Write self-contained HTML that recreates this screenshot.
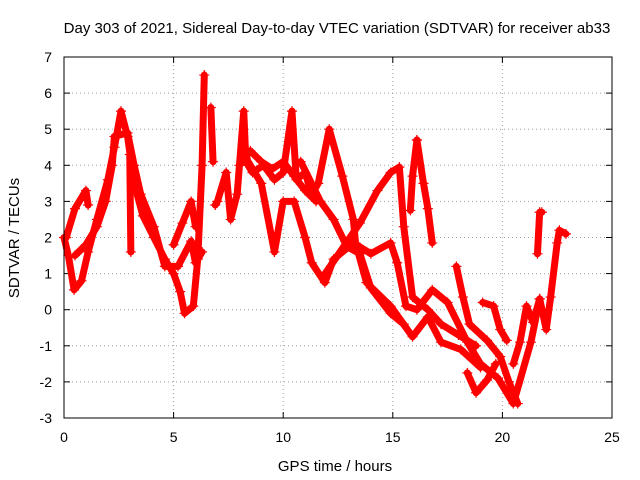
<!DOCTYPE html>
<html><head><meta charset="utf-8"><style>
body{margin:0;background:#fff;}
svg{display:block;font-family:"Liberation Sans",sans-serif;}
</style></head><body>
<svg id="chart" width="640" height="480">
<text x="337" y="33" font-size="15" text-anchor="middle">Day 303 of 2021, Sidereal Day-to-day VTEC variation (SDTVAR) for receiver ab33</text>
<text x="335" y="471" font-size="15" text-anchor="middle">GPS time / hours</text>
<text transform="translate(19,238) rotate(-90)" font-size="15" text-anchor="middle">SDTVAR / TECUs</text>
<g id="grid"></g><g id="ticks"></g><g id="marks"></g>
<rect x="64" y="57" width="548" height="361" fill="none" stroke="#000"/>
</svg>
<script>
const xTicks=[0,5,10,15,20,25];
const yTicks=[-3,-2,-1,0,1,2,3,4,5,6,7];
const trackL1=[[0,2],[0.2,1.5],[0.46,0.55],[0.8,0.8],[1.1,1.6],[1.5,2.5],[2,3.6],[2.3,4.5],[2.6,5.5],[2.9,4.8],[3.2,3.5],[3.6,2.6],[4.1,2.0],[4.6,1.4],[5.0,1.0],[5.3,0.5],[5.5,-0.1],[5.9,0.1],[6.1,1.4],[6.3,4.0],[6.4,6.5]];
const trackL2a=[[0.1,2.0],[0.5,2.8],[1.0,3.3],[1.1,2.9]];
const trackL2=[[0.5,1.5],[1.0,1.8],[1.5,2.3],[1.9,3.0],[2.2,4.0],[2.3,4.8],[2.9,4.9],[3.2,4.0],[3.5,3.2],[4.1,2.3],[4.6,1.2],[5.2,1.2],[5.8,1.9],[6.0,1.3],[6.3,1.6]];
const trackL3=[[5.0,1.8],[5.4,2.4],[5.8,3.0],[6.0,2.3]];
const trackL4=[[3.0,4.3],[3.05,1.6]];
const trackL5=[[6.7,5.6],[6.8,4.1]];
const trackM1=[[6.9,2.9],[7.0,3.0],[7.4,3.8],[7.6,2.5],[7.9,3.2],[8.2,5.5],[8.3,4.1],[8.6,3.8],[9.1,4.0],[9.6,3.6],[10.0,3.8],[10.4,5.5],[10.6,3.6],[11.0,3.8],[11.3,3.2],[11.6,3.5],[12.1,5.0],[12.7,3.7],[13.2,2.5],[13.3,1.85],[13.8,0.75],[14.9,0.1],[15.9,-0.75],[16.6,-0.2],[17.2,-0.9],[18.1,-1.1],[19.0,-1.6]];
const trackBand=[[8.0,4.0],[8.5,4.4],[9.0,4.1],[9.5,3.9],[10.0,4.1],[10.5,3.7],[11.0,3.3],[11.5,3.0]];
const trackM2=[[8.3,4.2],[9.0,3.5],[9.6,1.6],[10.0,3.0],[10.5,3.0],[11.0,2.0],[11.3,1.3],[11.9,0.75],[12.3,1.4],[13.2,1.85],[14.0,1.55],[14.9,1.85],[15.2,1.3],[15.6,0.1],[16.1,0.0],[16.8,0.55],[17.5,0.2],[18.4,-0.9],[19.0,-1.5],[19.8,-1.9],[20.5,-2.6],[21.3,-0.9],[21.7,0.3]];
const trackM3=[[10.8,4.1],[11.7,3.0],[12.3,2.5],[12.9,1.75],[13.5,1.55],[14.0,0.6],[14.9,-0.1],[15.5,-0.4]];
const trackM4=[[11.8,0.9],[13.5,2.4],[14.3,3.3],[14.9,3.8],[15.3,3.95],[15.5,2.3],[15.9,0.35],[16.6,0.0],[17.2,-0.4],[18,-0.7],[18.8,-1.0]];
const trackT4a=[[16.1,4.7],[15.9,3.7],[15.8,2.75]];
const trackT4b=[[16.1,4.7],[16.4,3.5],[16.6,2.8],[16.8,1.85]];
const trackT6=[[17.9,1.2],[18.2,0.35],[18.5,-0.4],[19.3,-0.85],[19.9,-1.3],[20.3,-2.0],[20.7,-2.6]];
const trackT7=[[19.1,0.2],[19.6,0.1],[19.9,-0.55],[20.2,-0.85]];
const trackT8=[[18.4,-1.75],[18.8,-2.3],[19.3,-1.95],[19.7,-1.5]];
const trackT9=[[20.5,-1.5],[20.8,-0.9],[21.1,0.1],[21.4,-0.35],[21.7,0.3],[22.0,-0.55],[22.2,0.35],[22.5,1.85],[22.6,2.2],[22.9,2.1]];
const trackT10=[[21.6,1.55],[21.7,2.7],[21.8,2.7]];
const tracks=[trackL1,trackL2a,trackL2,trackL3,trackL4,trackL5,trackM1,trackBand,trackM2,trackM3,trackM4,trackT4a,trackT4b,trackT6,trackT7,trackT8,trackT9,trackT10];
const NS="http://www.w3.org/2000/svg";
const X=v=>64+v*(548/25);
const Y=v=>418-(v+3)*(361/10);
const grid=document.getElementById('grid'),ticks=document.getElementById('ticks'),marks=document.getElementById('marks');
function mk(tag,attrs,parent){const e=document.createElementNS(NS,tag);for(const k in attrs)e.setAttribute(k,attrs[k]);parent.appendChild(e);return e;}
xTicks.forEach(t=>{
  const x=X(t);
  if(t>0&&t<25){const g=mk('line',{x1:x,x2:x,y1:57,y2:418,stroke:'#a0a0a0','stroke-dasharray':'1,3'},grid);
  
  }
  mk('line',{x1:x,x2:x,y1:418,y2:412,stroke:'#000'},ticks);
  mk('line',{x1:x,x2:x,y1:57,y2:63,stroke:'#000'},ticks);
  const l=mk('text',{x:x,y:442,'font-size':14,'text-anchor':'middle'},ticks);l.textContent=t;
  
  
});
yTicks.forEach(t=>{
  const y=Y(t);
  if(t>-3&&t<7){const g=mk('line',{x1:64,x2:612,y1:y,y2:y,stroke:'#a0a0a0','stroke-dasharray':'1,3'},grid);
  
  }
  mk('line',{x1:64,x2:70,y1:y,y2:y,stroke:'#000'},ticks);
  mk('line',{x1:612,x2:606,y1:y,y2:y,stroke:'#000'},ticks);
  const l=mk('text',{x:52,y:y+5,'font-size':14,'text-anchor':'end'},ticks);l.textContent=t;
  
  
});
tracks.forEach(tr=>{
  const p=mk('polyline',{points:tr.map(d=>X(d[0])+','+Y(d[1])).join(' '),fill:'none',stroke:'#ff0000','stroke-width':7,'stroke-linejoin':'round','stroke-linecap':'round'},marks);
  
  
  tr.forEach(d=>{
    const x=X(d[0]),y=Y(d[1]);
    const m=mk('path',{d:`M${x-5},${y}H${x+5}M${x},${y-5}V${y+5}`,stroke:'#ff0000','stroke-width':1.2},marks);
    
    
  });
});
</script>
</body></html>
